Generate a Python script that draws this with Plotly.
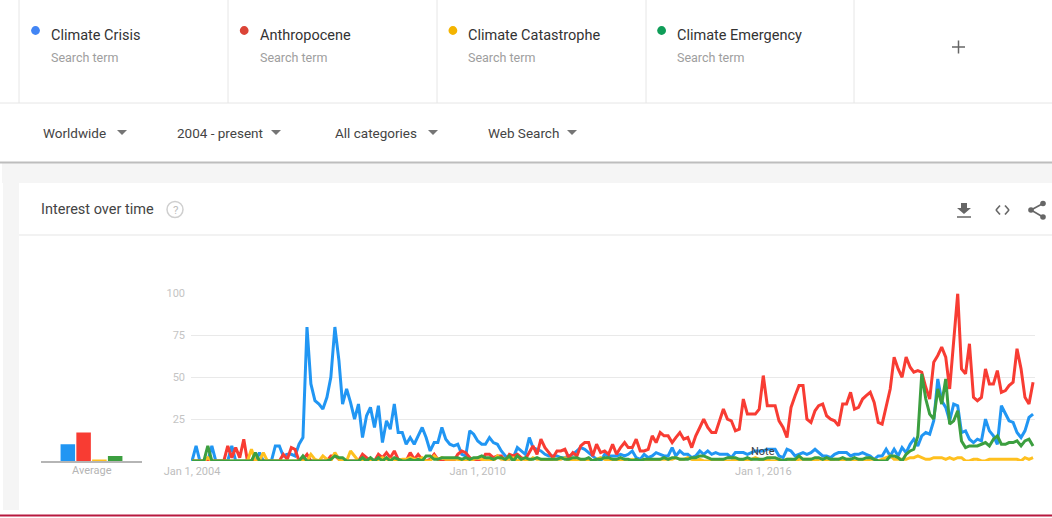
import pandas as pd
import plotly.graph_objects as go

W, H = 1052, 518
FONT = "Roboto"

terms = ["Climate Crisis", "Anthropocene", "Climate Catastrophe", "Climate Emergency"]
term_dot_colors = ["#4285f4", "#db4437", "#f4b400", "#0f9d58"]
line_colors = ["#2196f3", "#f83c33", "#ffc01f", "#3c9f40"]
filters = ["Worldwide", "2004 - present", "All categories", "Web Search"]
y_ticks = [0, 25, 50, 75, 100]
y_labels = ["", "25", "50", "75", "100"]
x_tick_dates = ["2004-01-01", "2010-01-01", "2016-01-01"]
x_tick_labels = ["Jan 1, 2004", "Jan 1, 2010", "Jan 1, 2016"]

averages = [10, 17, 0.6, 3]

climate_crisis = [
    0,9,0,0,0,9,0,0,0,0, 9,0,0,0,0,0,0,5,0,0, 0,9,9,3,4,4,3,10,14,80,
    46,36,34,31,38,50,80,60,34,43, 35,25,34,14,27,32,20,33,11,24,
    19,34,17,17,10,14,10,15,20,14, 6,11,11,20,13,10,9,10,4,3,
    18,16,12,10,10,14,11,10,6,3, 1,2,8,6,4,14,8,7,6,4,
    3,3,3,2,2,3,4,6,8,7, 5,3,1,0,4,3,3,3,4,3,
    4,6,2,1,4,2,3,5,4,3, 3,8,3,6,4,4,2,3,6,4,
    6,4,5,4,4,4,2,5,5,5, 4,5,6,6,6,7,7,7,3,2,
    7,6,3,4,5,4,5,7,5,3, 3,2,4,5,5,5,3,4,4,5,
    4,3,1,3,3,7,3,7,3,8, 5,10,13,9,15,17,16,24,49,36,
    32,24,34,33,17,18,13,11,13,12, 25,18,15,10,33,28,24,23,17,14,
    18,26,28,
]
anthropocene = [
    0,0,0,0,0,0,0,0,0,9, 2,8,2,13,0,0,0,0,0,0, 0,0,0,4,1,8,7,0,1,4,
    0,0,0,0,0,3,3,1,0,0, 0,0,0,4,2,0,0,4,2,5,
    2,6,1,0,0,5,1,4,1,0, 1,4,1,0,0,0,0,4,6,5,
    2,0,0,0,4,4,2,3,3,0, 4,3,4,2,1,5,9,4,13,8,
    5,2,6,6,7,2,5,3,9,11, 11,3,10,5,6,4,10,4,8,11,
    8,8,13,6,6,7,15,11,17,15, 15,11,14,17,13,14,8,15,20,25,
    20,17,17,24,31,25,24,18,19,37, 28,28,28,31,51,33,33,33,24,20,
    14,32,39,45,45,25,23,30,33,34, 27,25,24,21,34,34,41,31,32,37,
    39,41,35,23,22,32,43,62,55,50, 62,56,53,54,53,44,37,59,63,68,
    62,43,70,100,55,52,70,38,36,38, 55,46,46,54,41,42,45,47,67,55,
    38,34,47,
]
climate_catastrophe = [
    0,0,0,0,2,0,0,0,0,0, 0,0,0,0,0,7,0,0,5,0, 0,0,0,0,0,0,0,0,0,0,
    4,1,0,3,1,0,5,1,0,0, 6,3,0,1,0,1,0,1,2,1,
    1,1,0,1,1,2,1,1,2,0, 0,3,1,2,1,1,1,1,0,0,
    0,1,2,1,0,1,0,3,1,1, 1,2,0,1,1,0,2,1,1,0,
    0,1,1,1,2,0,1,0,1,0, 1,0,1,2,1,0,1,0,1,0,
    0,1,0,0,1,0,1,0,1,1, 1,1,2,1,1,2,1,0,1,0,
    0,0,0,1,0,0,0,1,0,1, 0,1,2,1,0,1,0,0,1,0,
    1,1,0,1,1,1,1,0,1,1, 0,0,1,1,0,1,1,0,0,1,
    0,1,1,0,1,2,3,1,1,1, 1,2,2,3,2,1,1,2,2,2,
    1,2,1,2,2,0,0,1,1,0, 0,1,1,1,1,1,1,1,1,0,
    2,1,2,
]
climate_emergency = [
    0,0,0,0,9,0,0,0,0,0, 0,0,0,0,0,0,5,0,0,0, 0,0,0,0,0,0,0,0,3,0,
    0,0,0,0,0,1,3,2,2,0, 0,0,0,2,0,2,0,2,0,2,
    0,2,1,0,0,1,0,1,0,3, 3,1,1,2,2,2,2,2,1,2,
    1,2,2,3,2,2,1,2,2,1, 3,0,3,1,2,1,1,2,1,1,
    1,1,1,2,1,1,2,2,1,1, 2,0,1,1,2,2,1,1,2,1,
    1,0,1,0,1,1,1,1,1,2, 1,2,2,1,1,1,2,2,3,3,
    2,1,1,1,1,2,2,2,1,1, 2,1,1,1,1,2,2,2,1,0,
    1,1,1,3,1,1,1,2,2,1, 2,1,1,1,2,1,1,2,1,1,
    2,2,1,0,0,0,3,3,2,0, 4,6,7,15,52,37,28,25,43,34,
    49,22,24,30,12,8,9,9,9,10, 11,9,13,15,10,10,11,11,12,9,
    12,13,9,
]
all_series = [climate_crisis, anthropocene, climate_catastrophe, climate_emergency]
assert all(len(s) == 213 for s in all_series), [len(s) for s in all_series]
months = pd.date_range("2004-01-01", periods=213, freq="MS")


def px(x):
    return x / W


def py(y):
    return 1 - y / H


shapes, annotations = [], []


def rect(x0, y0, x1, y1, color):
    shapes.append(dict(type="rect", xref="paper", yref="paper", x0=px(x0), x1=px(x1),
                       y0=py(y0), y1=py(y1), fillcolor=color, line_width=0, layer="below"))


def line(x0, y0, x1, y1, color, width=1, layer="below"):
    shapes.append(dict(type="line", xref="paper", yref="paper", x0=px(x0), x1=px(x1),
                       y0=py(y0), y1=py(y1), line=dict(color=color, width=width), layer=layer))


def circle(cx, cy, r, fill, outline=None, width=0):
    shapes.append(dict(type="circle", xref="paper", yref="paper", x0=px(cx - r), x1=px(cx + r),
                       y0=py(cy + r), y1=py(cy - r), fillcolor=fill,
                       line=dict(color=outline or fill, width=width), layer="above"))


def poly(points, color):
    d = "M " + " L ".join(f"{px(x):.5f},{py(y):.5f}" for x, y in points) + " Z"
    shapes.append(dict(type="path", xref="paper", yref="paper", path=d, fillcolor=color,
                       line_width=0, layer="above"))


def label(x, y, text, size, color, anchor="left"):
    annotations.append(dict(xref="paper", yref="paper", x=px(x), y=py(y), text=text, showarrow=False,
                            xanchor=anchor, yanchor="middle",
                            font=dict(family=FONT, size=size, color=color)))


# page furniture
rect(2, 163, W, 183, "#f5f5f5")
rect(3, 183, 19, 510, "#f5f5f5")
line(0, 103, W, 103, "#e6e6e6")
line(0, 162.5, W, 162.5, "#bdbdbd", 2)
line(19, 235, W, 235, "#eeeeee", 1.5)
line(0, 515.5, W, 515.5, "#b7193f", 2)
for x in (19, 228, 437, 646, 854):
    line(x, 0, x, 103, "#e6e6e6")

# search terms
for i, term in enumerate(terms):
    x0 = 19 + i * 208.7
    circle(x0 + 16.5, 30.5, 4.4, term_dot_colors[i])
    label(x0 + 30, 36, term, 14.5, "#333333")
    label(x0 + 30, 57.5, "Search term", 12.5, "#9e9e9e")
line(952, 47, 965, 47, "#666666", 1.5, "above")
line(958.5, 40.5, 958.5, 53.5, "#666666", 1.5, "above")

# filters
for text, tx, ax in zip(filters, (40.5, 175, 333, 486), (122, 276, 433, 572)):
    label(tx, 132.5, text, 13.5, "#444444")
    poly([(ax - 5, 130), (ax + 5, 130), (ax, 135)], "#757575")

# card header
label(39, 209.5, "Interest over time", 14.5, "#444444")
circle(175, 209.5, 8, "rgba(0,0,0,0)", "#cfcfcf", 1.5)
label(175, 210, "?", 11.5, "#bdbdbd", "center")
poly([(961, 203), (967, 203), (967, 208), (971, 208), (964, 214), (957, 208), (961, 208)], "#666666")
line(957, 217, 971, 217, "#666666", 1.5, "above")
for pts in ([(996, 210), (1000, 205.5)], [(996, 210), (1000, 214.5)],
            [(1009, 210), (1005, 205.5)], [(1009, 210), (1005, 214.5)]):
    line(pts[0][0], pts[0][1], pts[1][0], pts[1][1], "#666666", 1.6, "above")
line(1031, 210, 1043, 203.5, "#666666", 1.6, "above")
line(1031, 210, 1043, 217, "#666666", 1.6, "above")
circle(1031, 210, 2.8, "#666666")
circle(1043, 203.5, 2.8, "#666666")
circle(1043, 217, 2.8, "#666666")

# chart labels
label(91.5, 470.5, "Average", 11, "#b5b5b5", "center")

fig = go.Figure()
for term, values, color in zip(terms, all_series, line_colors):
    fig.add_trace(go.Scatter(x=months, y=values, mode="lines", name=term, cliponaxis=False,
                             line=dict(color=color, width=3, shape="linear"),
                             xaxis="x", yaxis="y", showlegend=False))
fig.add_trace(go.Bar(x=terms, y=averages, marker=dict(color=line_colors, line_width=0),
                     xaxis="x2", yaxis="y2", showlegend=False, width=0.92))

fig.add_annotation(x="2016-01-01", y=5.5, xref="x", yref="y", text="Note", showarrow=False,
                   font=dict(family=FONT, size=11, color="#3c4043"))

y_domain = [py(461), py(293.5)]
fig.update_layout(
    width=W, height=H, autosize=False,
    margin=dict(l=0, r=0, t=0, b=0, pad=0, autoexpand=False),
    paper_bgcolor="#ffffff", plot_bgcolor="rgba(0,0,0,0)",
    font=dict(family=FONT),
    shapes=shapes,
    xaxis=dict(domain=[px(191), px(1035)], type="date", range=["2003-12-24", "2021-09-16"],
               tickvals=x_tick_dates, ticktext=x_tick_labels, showgrid=False, zeroline=False,
               showline=False, ticks="", tickfont=dict(family=FONT, size=11, color="#bdbdbd"),
               ticklabelstandoff=2),
    yaxis=dict(domain=y_domain, range=[0, 100], tickvals=y_ticks, ticktext=y_labels,
               gridcolor="#e9e9e9", gridwidth=1, zeroline=False, showline=False, ticks="",
               tickfont=dict(family=FONT, size=11, color="#c4c4c4"), ticklabelstandoff=5),
    xaxis2=dict(domain=[px(41), px(142)], type="category", categoryorder="array", categoryarray=terms,
                range=[-1.7, 4.7], showticklabels=False, showgrid=False, zeroline=False,
                showline=True, linecolor="#b5b5b5", linewidth=1.5, ticks=""),
    yaxis2=dict(domain=y_domain, range=[0, 100], anchor="x2", visible=False),
)
for a in annotations:
    fig.add_annotation(**a)

fig.write_html("out.html", config=dict(displayModeBar=False),
               post_script="document.body.style.margin='0';")
